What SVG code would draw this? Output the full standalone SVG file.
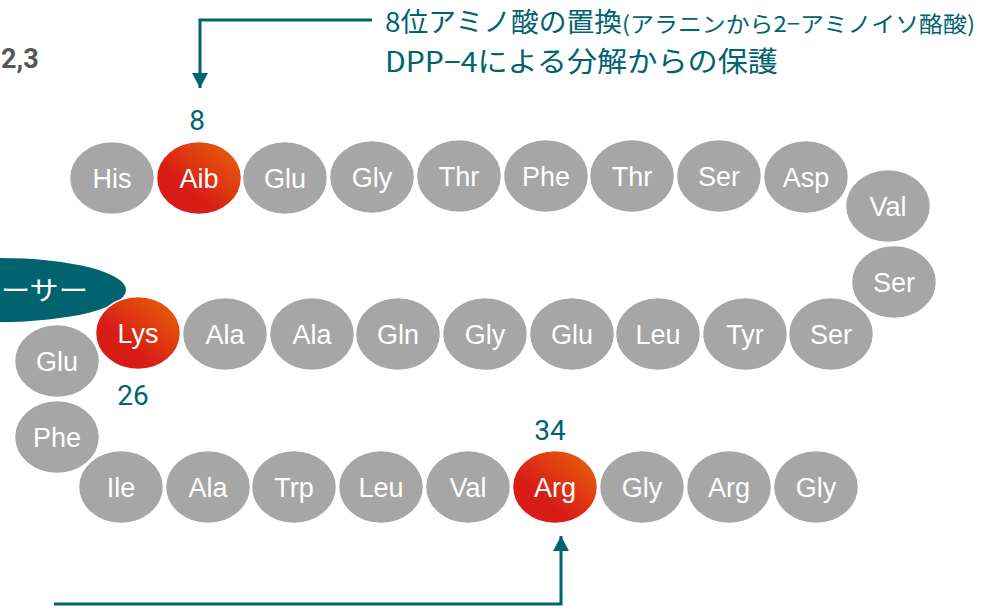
<svg xmlns="http://www.w3.org/2000/svg" width="990" height="611" viewBox="0 0 990 611">
<defs>
<linearGradient id="red" x1="0" y1="1" x2="1" y2="0">
<stop offset="0.35" stop-color="#d81c16"/>
<stop offset="1" stop-color="#e9680a"/>
</linearGradient>
<marker id="ah" markerUnits="userSpaceOnUse" markerWidth="16" markerHeight="16" refX="15" refY="8" orient="auto">
<path d="M0,0 L15,8 L0,16 Z" fill="#00636f"/>
</marker>
</defs>
<style>
.aa ellipse{fill:#a6a6a6;stroke:#fff;stroke-width:1.5}
.hl ellipse{fill:url(#red);stroke:#fff;stroke-width:1.5}
.aa text,.hl text{font-family:"Liberation Sans",Arial,sans-serif;font-size:27px;fill:#fff;text-anchor:middle}
.num{font-family:Roboto,"Liberation Sans",sans-serif;font-size:28px;fill:#00636f;text-anchor:middle}
.lbl{font-family:"Noto Sans CJK JP",sans-serif;fill:#00636f}
.conn{fill:none;stroke:#00636f;stroke-width:3}
</style>
<g id="receptor">
<ellipse cx="0" cy="290" rx="126" ry="32" fill="#00636e"/>
<text x="1" y="300" font-family="Noto Sans CJK JP,sans-serif" font-size="26" fill="#fff" textLength="87" lengthAdjust="spacingAndGlyphs">ーサー</text>
</g>
<g id="note23"><text x="1" y="68" font-family="Roboto,'Liberation Sans',sans-serif" font-size="27" font-weight="bold" fill="#555">2,3</text></g>
<g id="n7" class="aa"><ellipse cx="112" cy="178" rx="42.5" ry="36.5"/><text x="112" y="188">His</text></g>
<g id="n8" class="hl"><ellipse cx="199" cy="178" rx="42.5" ry="36.5"/><text x="199" y="188">Aib</text></g>
<g id="n9" class="aa"><ellipse cx="285" cy="178" rx="42.5" ry="36.5"/><text x="285" y="188">Glu</text></g>
<g id="n10" class="aa"><ellipse cx="372" cy="177" rx="42.5" ry="36.5"/><text x="372" y="187">Gly</text></g>
<g id="n11" class="aa"><ellipse cx="459" cy="176" rx="42.5" ry="36.5"/><text x="459" y="186">Thr</text></g>
<g id="n12" class="aa"><ellipse cx="546" cy="176" rx="42.5" ry="36.5"/><text x="546" y="186">Phe</text></g>
<g id="n13" class="aa"><ellipse cx="632" cy="176" rx="42.5" ry="36.5"/><text x="632" y="186">Thr</text></g>
<g id="n14" class="aa"><ellipse cx="719" cy="176" rx="42.5" ry="36.5"/><text x="719" y="186">Ser</text></g>
<g id="n15" class="aa"><ellipse cx="806" cy="177" rx="42.5" ry="36.5"/><text x="806" y="187">Asp</text></g>
<g id="n16" class="aa"><ellipse cx="888" cy="206" rx="42.5" ry="36.5"/><text x="888" y="216">Val</text></g>
<g id="n17" class="aa"><ellipse cx="894" cy="282" rx="42.5" ry="36.5"/><text x="894" y="292">Ser</text></g>
<g id="n18" class="aa"><ellipse cx="831" cy="334" rx="42.5" ry="36.5"/><text x="831" y="344">Ser</text></g>
<g id="n19" class="aa"><ellipse cx="745" cy="334" rx="42.5" ry="36.5"/><text x="745" y="344">Tyr</text></g>
<g id="n20" class="aa"><ellipse cx="658" cy="334" rx="42.5" ry="36.5"/><text x="658" y="344">Leu</text></g>
<g id="n21" class="aa"><ellipse cx="572" cy="334" rx="42.5" ry="36.5"/><text x="572" y="344">Glu</text></g>
<g id="n22" class="aa"><ellipse cx="485" cy="334" rx="42.5" ry="36.5"/><text x="485" y="344">Gly</text></g>
<g id="n23" class="aa"><ellipse cx="398" cy="334" rx="42.5" ry="36.5"/><text x="398" y="344">Gln</text></g>
<g id="n24" class="aa"><ellipse cx="312" cy="334" rx="42.5" ry="36.5"/><text x="312" y="344">Ala</text></g>
<g id="n25" class="aa"><ellipse cx="225" cy="334" rx="42.5" ry="36.5"/><text x="225" y="344">Ala</text></g>
<g id="n26" class="hl"><ellipse cx="138" cy="333" rx="42.5" ry="36.5"/><text x="138" y="343">Lys</text></g>
<g id="n27" class="aa"><ellipse cx="57" cy="361" rx="42.5" ry="36.5"/><text x="57" y="371">Glu</text></g>
<g id="n28" class="aa"><ellipse cx="57" cy="437" rx="42.5" ry="36.5"/><text x="57" y="447">Phe</text></g>
<g id="n29" class="aa"><ellipse cx="121" cy="487" rx="42.5" ry="36.5"/><text x="121" y="497">Ile</text></g>
<g id="n30" class="aa"><ellipse cx="208" cy="487" rx="42.5" ry="36.5"/><text x="208" y="497">Ala</text></g>
<g id="n31" class="aa"><ellipse cx="294" cy="487" rx="42.5" ry="36.5"/><text x="294" y="497">Trp</text></g>
<g id="n32" class="aa"><ellipse cx="381" cy="487" rx="42.5" ry="36.5"/><text x="381" y="497">Leu</text></g>
<g id="n33" class="aa"><ellipse cx="468" cy="487" rx="42.5" ry="36.5"/><text x="468" y="497">Val</text></g>
<g id="n34" class="hl"><ellipse cx="555" cy="487" rx="42.5" ry="36.5"/><text x="555" y="497">Arg</text></g>
<g id="n35" class="aa"><ellipse cx="642" cy="487" rx="42.5" ry="36.5"/><text x="642" y="497">Gly</text></g>
<g id="n36" class="aa"><ellipse cx="729" cy="487" rx="42.5" ry="36.5"/><text x="729" y="497">Arg</text></g>
<g id="n37" class="aa"><ellipse cx="816" cy="487" rx="42.5" ry="36.5"/><text x="816" y="497">Gly</text></g>
<g id="numbers">
<text class="num" x="197" y="130">8</text>
<text class="num" x="133" y="405">26</text>
<text class="num" x="550" y="440">34</text>
</g>
<g id="note8">
<text class="lbl" x="385" y="32" font-size="27" textLength="237" lengthAdjust="spacingAndGlyphs">8位アミノ酸の置換</text>
<text class="lbl" x="622" y="32" font-size="22" textLength="353" lengthAdjust="spacingAndGlyphs">(アラニンから2−アミノイソ酪酸)</text>
<text class="lbl" x="385" y="72" font-size="28" textLength="393" lengthAdjust="spacingAndGlyphs">DPP−4による分解からの保護</text>
</g>
<g id="connectors">
<path class="conn" d="M372,20 H200 V88" marker-end="url(#ah)"/>
<path class="conn" d="M54,604 H561 V536" marker-end="url(#ah)"/>
</g>
</svg>
